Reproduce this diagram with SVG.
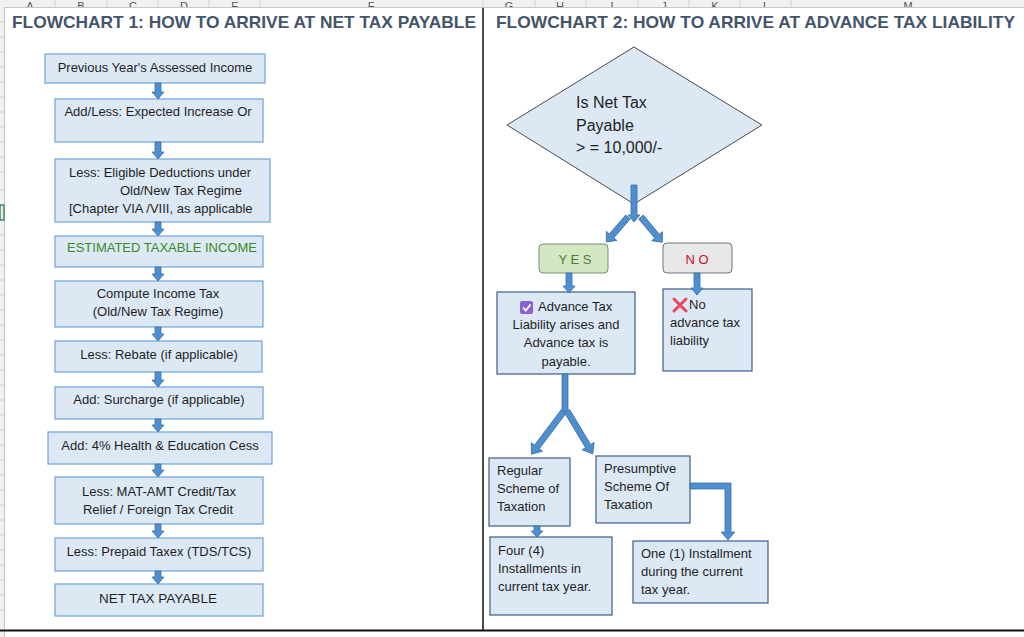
<svg xmlns="http://www.w3.org/2000/svg" width="1024" height="637" viewBox="0 0 1024 637">
<defs>
<style>
.t{font-family:"Liberation Sans",Arial,sans-serif;font-size:13px;fill:#1f1f1f}
.c{text-anchor:middle}
.title{font-family:"Liberation Sans",Arial,sans-serif;font-size:17px;font-weight:bold;fill:#44546a}
.lb{fill:#dde8f5;stroke:#6fa3d8;stroke-width:1.2}
.rb{fill:#dde8f5;stroke:#3d5f86;stroke-width:1.2}
.arr{fill:#4f8fcf;stroke:#3a6ea5;stroke-width:0.8}
.col{font-family:"Liberation Sans",Arial,sans-serif;font-size:11px;fill:#555;text-anchor:middle}
.grid{stroke:#d0d0d0;stroke-width:1}
</style>
<clipPath id="hdr"><rect x="0" y="0" width="1024" height="7"/></clipPath>
</defs>
<rect width="1024" height="637" fill="#ffffff"/>

<!-- spreadsheet chrome -->
<g id="sheet-header">
<rect x="0" y="0" width="1024" height="7" fill="#f1f1f1"/>
<line x1="0" y1="7.5" x2="1024" y2="7.5" stroke="#c8c8c8"/>
<g class="grid">
<line x1="55" y1="0" x2="55" y2="7"/><line x1="107" y1="0" x2="107" y2="7"/><line x1="158" y1="0" x2="158" y2="7"/><line x1="209" y1="0" x2="209" y2="7"/><line x1="260" y1="0" x2="260" y2="7"/><line x1="483" y1="0" x2="483" y2="7"/><line x1="535" y1="0" x2="535" y2="7"/><line x1="586" y1="0" x2="586" y2="7"/><line x1="638" y1="0" x2="638" y2="7"/><line x1="689" y1="0" x2="689" y2="7"/><line x1="740" y1="0" x2="740" y2="7"/><line x1="791" y1="0" x2="791" y2="7"/>
</g>
<g clip-path="url(#hdr)">
<text class="col" x="30" y="10">A</text><text class="col" x="81" y="10">B</text><text class="col" x="133" y="10">C</text><text class="col" x="184" y="10">D</text><text class="col" x="235" y="10">E</text><text class="col" x="371" y="10">F</text><text class="col" x="509" y="10">G</text><text class="col" x="560" y="10">H</text><text class="col" x="612" y="10">I</text><text class="col" x="664" y="10">J</text><text class="col" x="715" y="10">K</text><text class="col" x="766" y="10">L</text><text class="col" x="908" y="10">M</text>
</g>
</g>
<g id="sheet-gutter">
<rect x="0" y="7" width="4" height="630" fill="#f1f1f1"/>
<line x1="4.5" y1="7" x2="4.5" y2="637" stroke="#c8c8c8"/>
<g class="grid">
<line x1="0" y1="22" x2="4" y2="22"/><line x1="0" y1="37" x2="4" y2="37"/><line x1="0" y1="52" x2="4" y2="52"/><line x1="0" y1="67" x2="4" y2="67"/><line x1="0" y1="82" x2="4" y2="82"/><line x1="0" y1="97" x2="4" y2="97"/><line x1="0" y1="112" x2="4" y2="112"/><line x1="0" y1="127" x2="4" y2="127"/><line x1="0" y1="142" x2="4" y2="142"/><line x1="0" y1="157" x2="4" y2="157"/><line x1="0" y1="172" x2="4" y2="172"/><line x1="0" y1="190" x2="4" y2="190"/><line x1="0" y1="235" x2="4" y2="235"/><line x1="0" y1="250" x2="4" y2="250"/><line x1="0" y1="265" x2="4" y2="265"/><line x1="0" y1="280" x2="4" y2="280"/><line x1="0" y1="295" x2="4" y2="295"/><line x1="0" y1="310" x2="4" y2="310"/><line x1="0" y1="325" x2="4" y2="325"/><line x1="0" y1="340" x2="4" y2="340"/><line x1="0" y1="355" x2="4" y2="355"/><line x1="0" y1="370" x2="4" y2="370"/><line x1="0" y1="385" x2="4" y2="385"/><line x1="0" y1="400" x2="4" y2="400"/><line x1="0" y1="415" x2="4" y2="415"/><line x1="0" y1="430" x2="4" y2="430"/><line x1="0" y1="445" x2="4" y2="445"/><line x1="0" y1="460" x2="4" y2="460"/><line x1="0" y1="475" x2="4" y2="475"/><line x1="0" y1="490" x2="4" y2="490"/><line x1="0" y1="505" x2="4" y2="505"/><line x1="0" y1="520" x2="4" y2="520"/><line x1="0" y1="535" x2="4" y2="535"/><line x1="0" y1="550" x2="4" y2="550"/><line x1="0" y1="565" x2="4" y2="565"/><line x1="0" y1="580" x2="4" y2="580"/><line x1="0" y1="595" x2="4" y2="595"/><line x1="0" y1="610" x2="4" y2="610"/>
</g>
<rect x="0" y="205" width="4" height="15" fill="#e2efe6" stroke="#217346" stroke-width="1.2"/>
</g>

<!-- frame lines -->
<line x1="483" y1="8" x2="483" y2="630" stroke="#111" stroke-width="1.5"/>
<line x1="0" y1="630.5" x2="1024" y2="630.5" stroke="#111" stroke-width="2"/>

<!-- titles -->
<text class="title" x="12" y="28" textLength="464" lengthAdjust="spacingAndGlyphs">FLOWCHART 1: HOW TO ARRIVE AT NET TAX PAYABLE</text>
<text class="title" x="496" y="28" textLength="519" lengthAdjust="spacingAndGlyphs">FLOWCHART 2: HOW TO ARRIVE AT ADVANCE TAX LIABILITY</text>

<!-- Flowchart 1 nodes -->
<g id="n-prev"><rect class="lb" x="45" y="54" width="220" height="29"/><text class="t c" x="155" y="72">Previous Year's Assessed Income</text></g>
<g id="n-addless"><rect class="lb" x="55" y="99" width="208" height="43"/><text class="t c" x="158" y="116">Add/Less: Expected Increase Or</text></g>
<g id="n-deduct"><rect class="lb" x="55" y="159" width="215" height="63"/>
<text class="t" x="69" y="177">Less: Eligible Deductions under</text>
<text class="t" x="120" y="195">Old/New Tax Regime</text>
<text class="t" x="69" y="213">[Chapter VIA /VIII, as applicable</text></g>
<g id="n-eti"><rect class="lb" x="55" y="236" width="208" height="31"/><text class="t c" x="162" y="252" style="fill:#3a8a22">ESTIMATED TAXABLE INCOME</text></g>
<g id="n-compute"><rect class="lb" x="55" y="281" width="208" height="46"/><text class="t c" x="158" y="298">Compute Income Tax</text><text class="t c" x="158" y="316">(Old/New Tax Regime)</text></g>
<g id="n-rebate"><rect class="lb" x="55" y="341" width="207" height="31"/><text class="t c" x="159" y="359">Less: Rebate (if applicable)</text></g>
<g id="n-surcharge"><rect class="lb" x="55" y="387" width="208" height="32"/><text class="t c" x="159" y="404">Add: Surcharge (if applicable)</text></g>
<g id="n-cess"><rect class="lb" x="48" y="432" width="224" height="32"/><text class="t c" x="160" y="450">Add: 4% Health &amp; Education Cess</text></g>
<g id="n-mat"><rect class="lb" x="55" y="477" width="208" height="47"/><text class="t c" x="159" y="496">Less: MAT-AMT Credit/Tax</text><text class="t c" x="158" y="514">Relief / Foreign Tax Credit</text></g>
<g id="n-prepaid"><rect class="lb" x="55" y="538" width="208" height="33"/><text class="t c" x="159" y="556">Less: Prepaid Taxex (TDS/TCS)</text></g>
<g id="n-net"><rect class="lb" x="55" y="584" width="208" height="32"/><text class="t c" x="158" y="603" style="font-size:13.5px">NET TAX PAYABLE</text></g>

<!-- Flowchart 2 nodes -->
<g id="n-decision"><polygon points="634,47 762,125 634,204 507,125" fill="#dde8f5" stroke="#4a4a4a" stroke-width="1"/>
<text class="t" x="576" y="108" style="font-size:16px">Is Net Tax</text>
<text class="t" x="576" y="131" style="font-size:16px">Payable</text>
<text class="t" x="576" y="153" style="font-size:16px">&gt; = 10,000/-</text></g>
<g id="n-yes"><rect x="539" y="244" width="69" height="29" rx="4" fill="#d4e7c3" stroke="#7a8a7a" stroke-width="1"/><text class="t c" x="575" y="264" style="fill:#4f7a32">Y E S</text></g>
<g id="n-no"><rect x="663" y="243" width="69" height="30" rx="4" fill="#e8e8e8" stroke="#6a7480" stroke-width="1"/><text class="t c" x="697" y="264" style="fill:#c8102e">N O</text></g>
<g id="n-advance"><rect class="rb" x="497" y="292" width="138" height="82"/>
<rect x="520" y="301" width="13" height="13" rx="2" fill="#8a62cf"/>
<path d="M523,307.5 L525.8,310.5 L530.5,304.5" fill="none" stroke="#fff" stroke-width="1.8"/>
<text class="t" x="538" y="311">Advance Tax</text>
<text class="t c" x="566" y="329">Liability arises and</text>
<text class="t c" x="566" y="347">Advance tax is</text>
<text class="t c" x="566" y="366">payable.</text></g>
<g id="n-noliab"><rect class="rb" x="663" y="289" width="89" height="82"/>
<path d="M674,299 L686,311 M686,299 L674,311" stroke="#e8485f" stroke-width="3" stroke-linecap="round"/>
<text class="t" x="689" y="309">No</text>
<text class="t" x="670" y="327">advance tax</text>
<text class="t" x="670" y="345">liability</text></g>
<g id="n-regular"><rect class="rb" x="489" y="458" width="81" height="68"/>
<text class="t" x="497" y="475">Regular</text><text class="t" x="497" y="493">Scheme of</text><text class="t" x="497" y="511">Taxation</text></g>
<g id="n-presumptive"><rect class="rb" x="596" y="456" width="94" height="67"/>
<text class="t" x="604" y="473">Presumptive</text><text class="t" x="604" y="491">Scheme Of</text><text class="t" x="604" y="509">Taxation</text></g>
<g id="n-four"><rect class="rb" x="490" y="537" width="122" height="78"/>
<text class="t" x="498" y="555">Four (4)</text><text class="t" x="498" y="573">Installments in</text><text class="t" x="498" y="591">current tax year.</text></g>
<g id="n-one"><rect class="rb" x="633" y="541" width="135" height="62"/>
<text class="t" x="641" y="558">One (1) Installment</text><text class="t" x="641" y="576">during the current</text><text class="t" x="641" y="594">tax year.</text></g>

<!-- connectors -->
<g id="connectors" class="arr">
<polygon points="155,83 161,83 161,92 164,92 158,99 152,92 155,92"/>
<polygon points="155,142 161,142 161,152 164,152 158,159 152,152 155,152"/>
<polygon points="155,222 161,222 161,229 164,229 158,236 152,229 155,229"/>
<polygon points="155,267 161,267 161,274 164,274 158,281 152,274 155,274"/>
<polygon points="155,327 161,327 161,334 164,334 158,341 152,334 155,334"/>
<polygon points="155,372 161,372 161,380 164,380 158,387 152,380 155,380"/>
<polygon points="155,419 161,419 161,425 164,425 158,432 152,425 155,425"/>
<polygon points="155,464 161,464 161,470 164,470 158,477 152,470 155,470"/>
<polygon points="155,524 161,524 161,531 164,531 158,538 152,531 155,531"/>
<polygon points="155,571 161,571 161,577 164,577 158,584 152,577 155,577"/>
<polygon points="631,185 637,185 637,215 640,215 634,222 628,215 631,215"/>
<g transform="translate(628,217) rotate(41)"><polygon points="-3,0 3,0 3,25 7,25 0,33 -7,25 -3,25"/></g>
<g transform="translate(641,217) rotate(-40)"><polygon points="-3,0 3,0 3,25 7,25 0,33 -7,25 -3,25"/></g>
<polygon points="566,273 572,273 572,286 575,286 569,293 563,286 566,286"/>
<polygon points="694,273 700,273 700,288 703,288 697,295 691,288 694,288"/>
<polygon points="562,374 568,374 568,413 562,413"/>
<g transform="translate(564,411) rotate(37)"><polygon points="-3,0 3,0 3,45 7,45 0,54 -7,45 -3,45"/></g>
<g transform="translate(567,411) rotate(-31)"><polygon points="-3,0 3,0 3,41 7,41 0,50 -7,41 -3,41"/></g>
<polygon points="534,526 540,526 540,531 543,531 537,537 531,531 534,531"/>
<polygon points="690,483 731,483 731,532 735,532 728,540 721,532 725,532 725,489 690,489"/>
</g>
</svg>
